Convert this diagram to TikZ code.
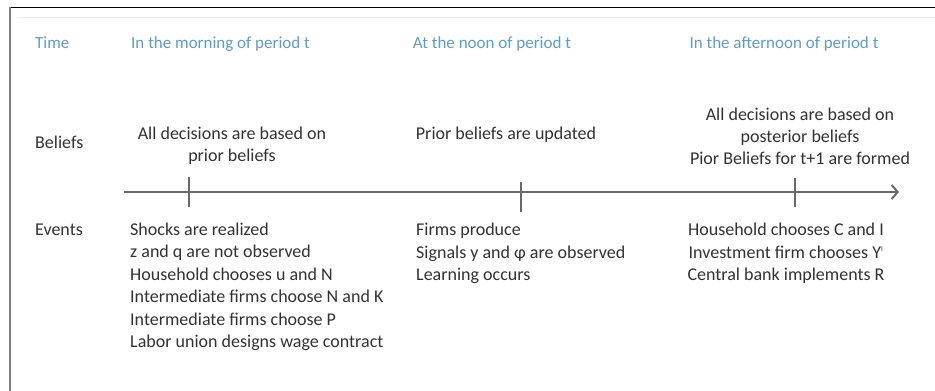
\documentclass[tikz,border=0pt]{standalone}
\usepackage{fontspec}
\setmainfont{Carlito}
\usepackage{tikz}
\usetikzlibrary{arrows.meta,calc}
\usepackage{xcolor}
\definecolor{headblue}{RGB}{91,155,213}
\definecolor{txtgray}{RGB}{50,50,50}
\definecolor{axisgray}{RGB}{105,105,105}
\tikzset{
  lbl/.style={font=\fontsize{18}{22}\selectfont, text=txtgray, inner sep=0pt},
  lst/.style={font=\fontsize{18}{22.4}\selectfont, text=txtgray, inner sep=0pt},
  head/.style={font=\fontsize{17}{22}\selectfont, text=headblue, inner sep=0pt},
  axis/.style={draw=axisgray, line width=2pt},
}

\begin{document}
\begin{tikzpicture}[x=1pt,y=-1pt]
    \useasboundingbox (0,0) rectangle (935,391);
    % frame
    \draw[line width=1.3pt] (9,7.3) -- (935,7.3);
    \draw[gray, line width=2pt] (9.5,7) -- (9.5,391);
    \draw[black!7, line width=1.5pt] (18,17.5) -- (935,17.5);
    % row titles
    \node[head, anchor=base west] (time) at (35,48) {Time};
    \node[lbl, anchor=base west] (beliefs) at (35,148.5) {Beliefs};
    \node[lbl, anchor=base west] (events) at (35,235.5) {Events};
    % headers
    \node[head, anchor=base west] (morning) at (131,48) {In the morning of period t};
    \node[head, anchor=base] (noon) at (492,48) {At the noon of period t};
    \node[head, anchor=base] (afternoon) at (784,48) {In the afternoon of period t};
    % beliefs (base = last line)
    \node[lbl, anchor=base, align=center] (bmorning) at (232,161.5)
        {All decisions are based on\\prior beliefs};
    \node[lbl, anchor=base] (bnoon) at (506,139.5) {Prior beliefs are updated};
    \node[lbl, anchor=base, align=center] (bafternoon) at (800,164.5)
        {All decisions are based on\\posterior beliefs\\Pior Beliefs for t+1 are formed};
    % time line
    \coordinate (tstart) at (124,192);
    \coordinate (tend) at (899,192);
    \draw[axis, -{Straight Barb[length=6pt,width=14pt]}] (tstart) -- (tend);
    \coordinate (tmorning) at (189.3,192);
    \coordinate (tnoon) at (521,197);
    \coordinate (tafternoon) at (795,192.5);
    \draw[axis] ($(tmorning)+(0,-15)$) -- ($(tmorning)+(0,15)$);
    \draw[axis] ($(tnoon)+(0,-15)$) -- ($(tnoon)+(0,15)$);
    \draw[axis] ($(tafternoon)+(0,-14.5)$) -- ($(tafternoon)+(0,14.5)$);
    % events (base = last line)
    \node[lst, anchor=base west, align=left] (emorning) at (130,347.5)
        {Shocks are realized\\z and q are not observed\\Household chooses u and N\\
         Intermediate firms choose N and K\\Intermediate firms choose P\\
         Labor union designs wage contract};
    \node[lst, anchor=base west, align=left] (enoon) at (416,280.5)
        {Firms produce\\Signals y and φ are observed\\Learning occurs};
    \node[lst, anchor=base, align=center] (eafternoon) at (786,280.5)
        {Household chooses C and I\\Investment firm chooses Y\textsuperscript{\scriptsize I}\\
         Central bank implements R};
\end{tikzpicture}
\end{document}
